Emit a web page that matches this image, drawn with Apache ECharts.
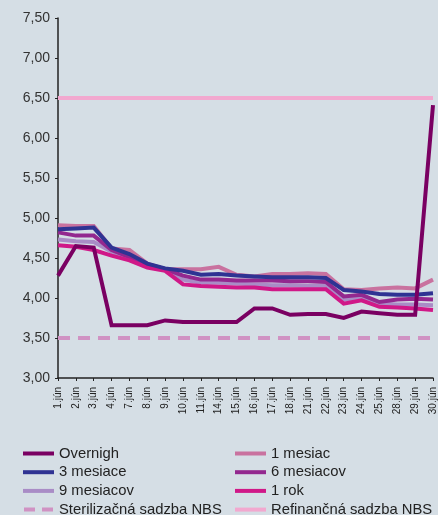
<!DOCTYPE html>
<html><head><meta charset="utf-8">
<script src="https://cdn.jsdelivr.net/npm/echarts@6/dist/echarts.min.js"></script>
<style>html,body{margin:0;padding:0;background:#d5dee5}#c{width:438px;height:515px}</style>
</head><body><div id="c"></div>
<script>
const categories = ['1.jún','2.jún','3.jún','4.jún','7.jún','8.jún','9.jún','10.jún','11.jún','14.jún','15.jún','16.jún','17.jún','18.jún','21.jún','22.jún','23.jún','24.jún','25.jún','28.jún','29.jún','30.jún'];
const overnight = [4.28,4.65,4.63,3.66,3.66,3.66,3.72,3.70,3.70,3.70,3.70,3.87,3.87,3.79,3.80,3.80,3.75,3.83,3.81,3.79,3.79,6.41];
const mesiac1 =   [4.91,4.90,4.90,4.62,4.60,4.43,4.36,4.36,4.36,4.39,4.29,4.27,4.30,4.30,4.31,4.30,4.11,4.10,4.12,4.13,4.12,4.23];
const mesiace3 =  [4.86,4.87,4.88,4.63,4.55,4.43,4.37,4.34,4.29,4.30,4.28,4.27,4.26,4.26,4.26,4.25,4.10,4.08,4.05,4.04,4.04,4.06];
const mesiacov6 = [4.82,4.78,4.78,4.60,4.51,4.42,4.36,4.28,4.23,4.23,4.22,4.22,4.22,4.21,4.21,4.20,4.02,4.04,3.95,3.98,3.99,3.98];
const mesiacov9 = [4.73,4.71,4.70,4.58,4.49,4.40,4.35,4.23,4.19,4.19,4.18,4.17,4.16,4.16,4.15,4.15,3.98,4.00,3.93,3.92,3.92,3.91];
const rok1 =      [4.66,4.64,4.60,4.53,4.47,4.38,4.34,4.17,4.15,4.14,4.13,4.13,4.11,4.11,4.11,4.11,3.93,3.97,3.89,3.88,3.87,3.85];
const sterilizacna = [3.5,3.5,3.5,3.5,3.5,3.5,3.5,3.5,3.5,3.5,3.5,3.5,3.5,3.5,3.5,3.5,3.5,3.5,3.5,3.5,3.5,3.5];
const refinancna =   [6.5,6.5,6.5,6.5,6.5,6.5,6.5,6.5,6.5,6.5,6.5,6.5,6.5,6.5,6.5,6.5,6.5,6.5,6.5,6.5,6.5,6.5];

function ln(name, data, color, z, type) {
  return {name, type:'line', data, symbol:'none', z, animation:false,
    lineStyle:{color, width:4, type: type||'solid', cap:'butt', join:'miter'}, itemStyle:{color}};
}
const chart = echarts.init(document.getElementById('c'));
const legendText = {fontFamily:'Liberation Sans, Arial, sans-serif', fontSize:14.8, color:'#222', lineHeight:14, padding:[0,0,0,0]};
const solidIcon = 'rect';
const dashIcon = 'path://M0,0h11v4h-11z M18,0h11v4h-11z';
function legendItems(names){
  return names.map(n => ({name:n, icon: n.startsWith('Steril') ? dashIcon : solidIcon}));
}
chart.setOption({
  backgroundColor:'#d5dee5',
  animation:false,
  grid:{left:58, right:2, top:18, bottom:137},
  legend:[
    {orient:'vertical', left:23, top:446, height:90, width:200, padding:0, itemWidth:31, itemHeight:4, itemGap:3.7, textStyle:legendText,
     data:legendItems(['Overnigh','3 mesiace','9 mesiacov','Sterilizačná sadzba NBS'])},
    {orient:'vertical', left:235, top:446, height:90, width:200, padding:0, itemWidth:31, itemHeight:4, itemGap:3.7, itemTextGap:7, textStyle:legendText,
     data:legendItems(['1 mesiac','6 mesiacov','1 rok','Refinančná sadzba NBS'])}
  ],
  xAxis:{type:'category', data:categories, boundaryGap:false,
    axisLine:{lineStyle:{color:'#222', width:1.5}},
    axisTick:{show:true, length:3, lineStyle:{color:'#222'}, alignWithLabel:true},
    axisLabel:{rotate:90, fontSize:10, color:'#222', margin:9, interval:0, fontFamily:'Liberation Sans, Arial, sans-serif'},
    splitLine:{show:false}},
  yAxis:{type:'value', min:3, max:7.5, interval:0.5,
    axisLine:{show:true, lineStyle:{color:'#222', width:1.5}},
    axisTick:{show:true, length:3, lineStyle:{color:'#222'}},
    axisLabel:{fontSize:14, color:'#333', margin:8, fontFamily:'Liberation Sans, Arial, sans-serif',
      formatter:v=>v.toFixed(2).replace('.',',')},
    splitLine:{show:false}},
  series:[
    ln('Sterilizačná sadzba NBS', sterilizacna, '#d092c3', 1, [12,8]),
    ln('Refinančná sadzba NBS', refinancna, '#f2a8cf', 1),
    ln('1 mesiac', mesiac1, '#c9729f', 2),
    ln('9 mesiacov', mesiacov9, '#a98cc6', 3),
    ln('6 mesiacov', mesiacov6, '#93288f', 4),
    ln('1 rok', rok1, '#d01888', 5),
    ln('3 mesiace', mesiace3, '#2f3393', 6),
    ln('Overnigh', overnight, '#7a0062', 7)
  ]
});
</script></body></html>
